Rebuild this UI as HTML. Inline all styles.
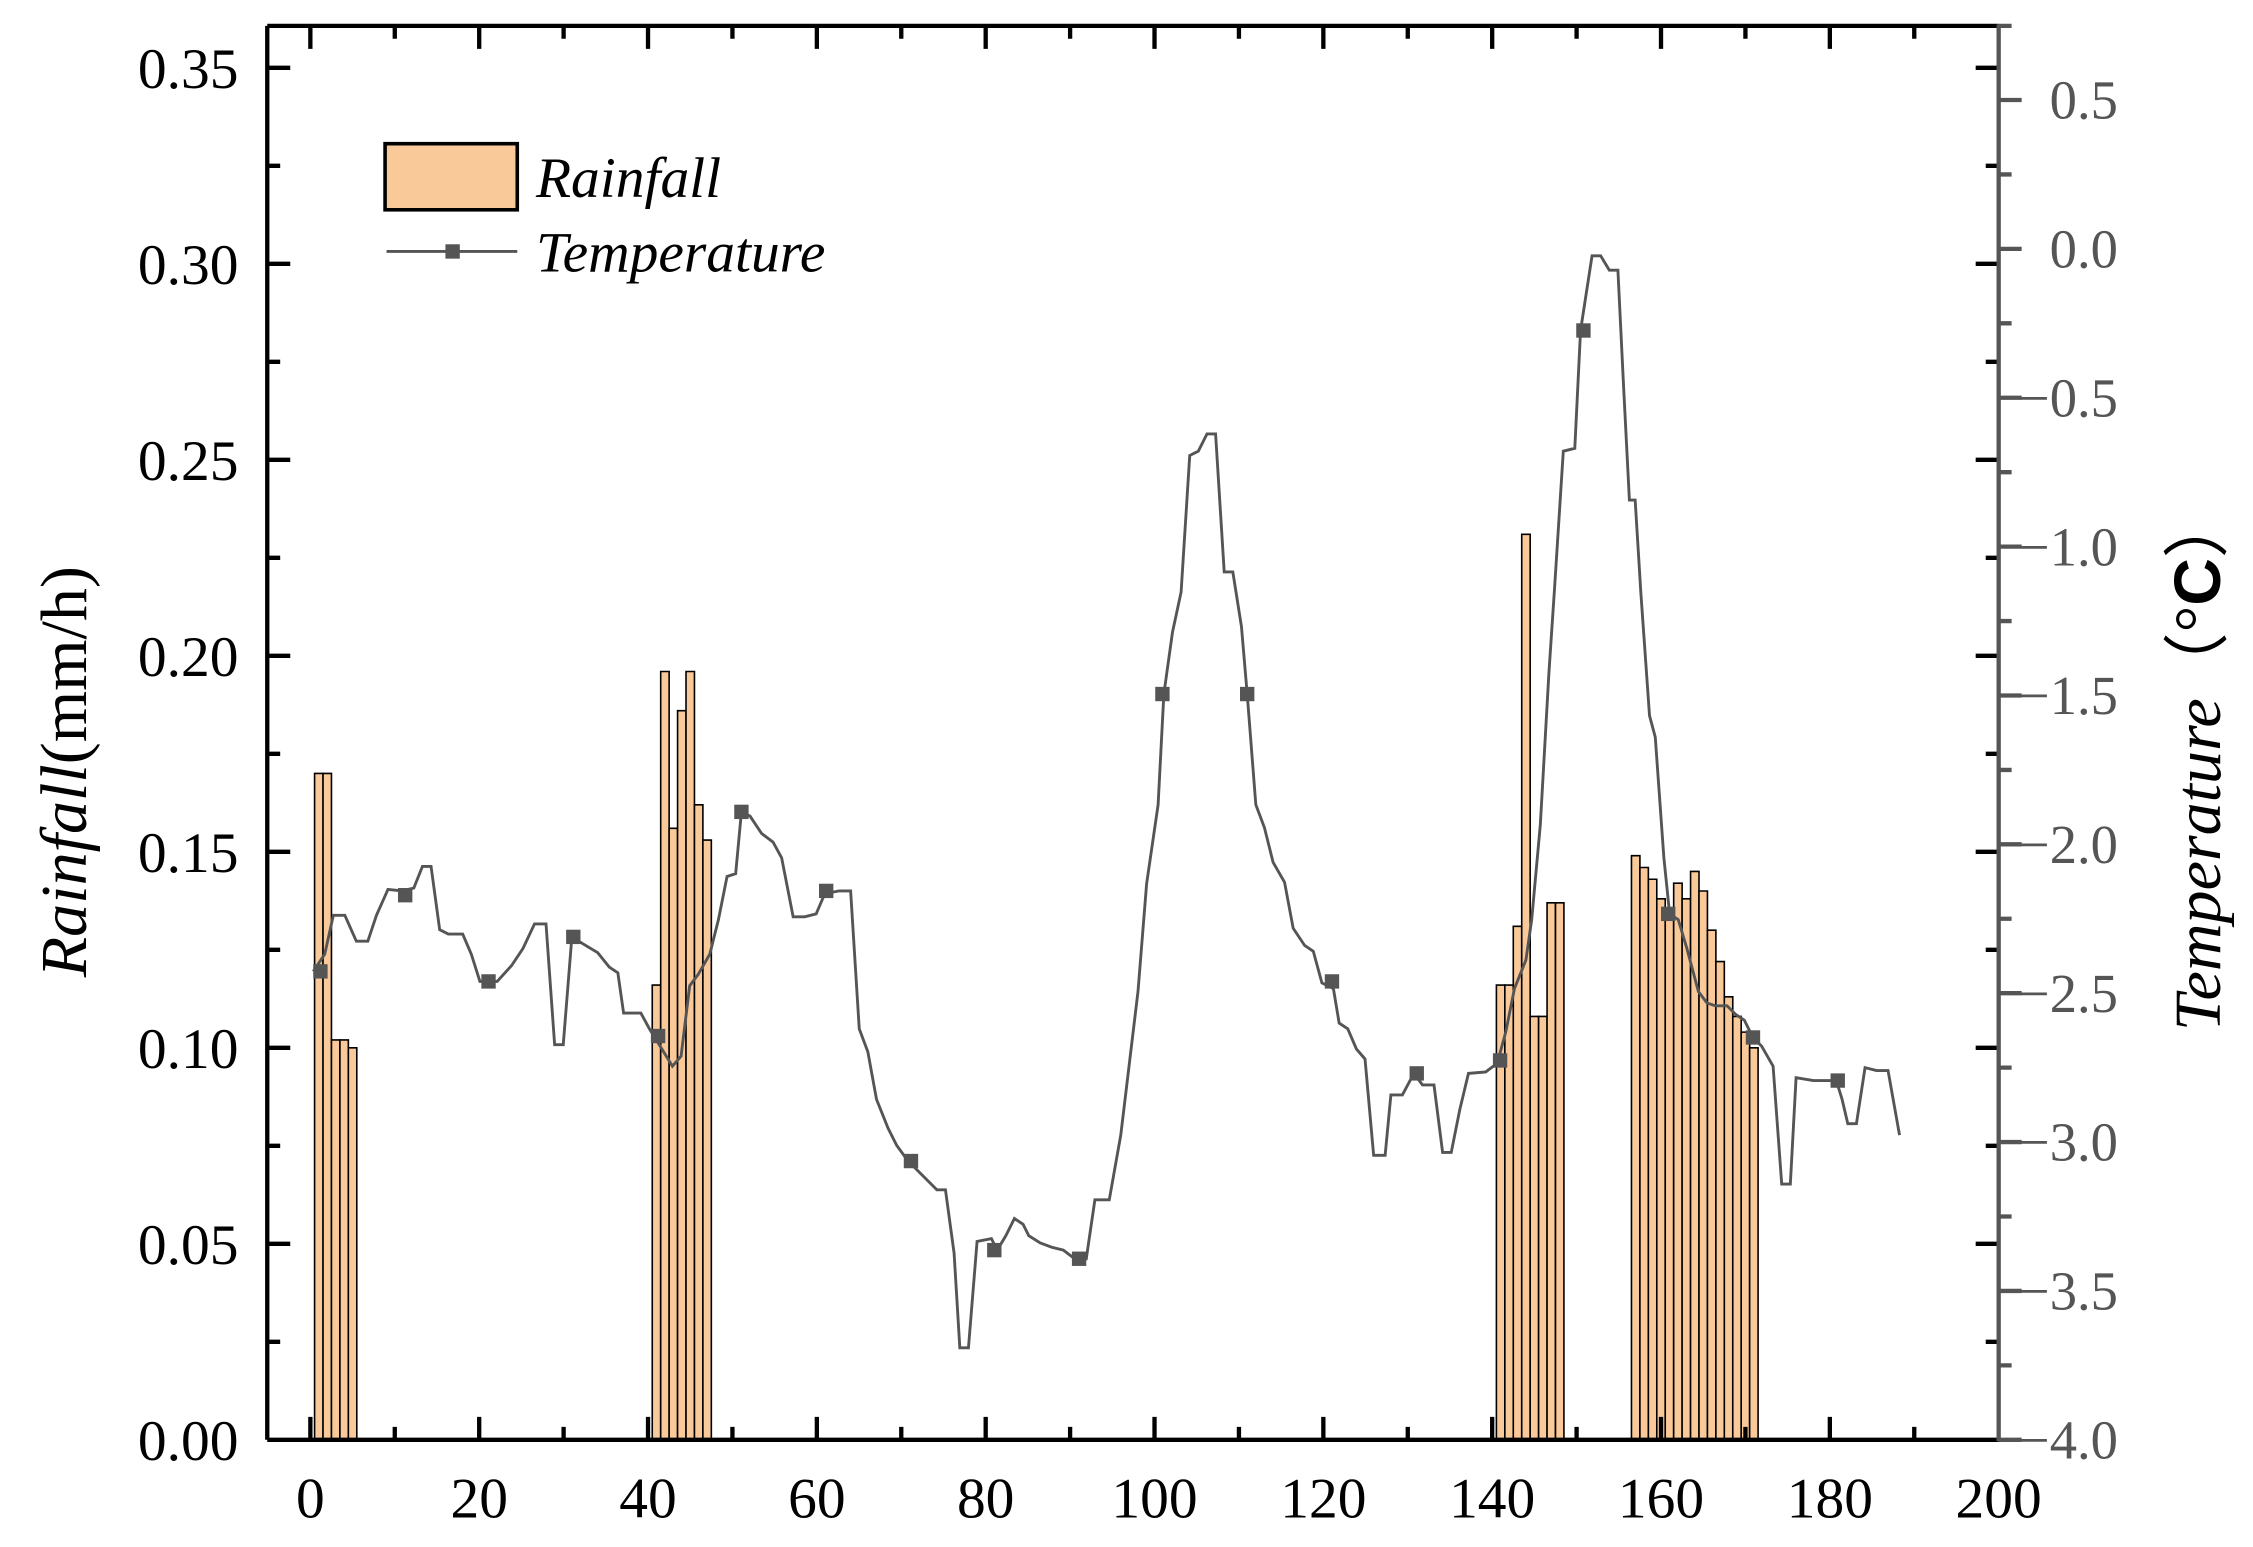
<!DOCTYPE html>
<html><head><meta charset="utf-8"><style>html,body{margin:0;padding:0;background:#fff}svg{display:block}</style></head>
<body>
<svg width="2253" height="1547" viewBox="0 0 1568 1076.6" preserveAspectRatio="none" xmlns="http://www.w3.org/2000/svg" font-family="'Liberation Serif',serif">
<g transform="translate(216,1002) scale(5.875,-2728)" fill="#fac99a" stroke="#000">
<rect x="0.5" y="0" width="1" height="0.17" vector-effect="non-scaling-stroke" stroke-width="1.6"/>
<rect x="1.5" y="0" width="1" height="0.17" vector-effect="non-scaling-stroke" stroke-width="1.6"/>
<rect x="2.5" y="0" width="1" height="0.102" vector-effect="non-scaling-stroke" stroke-width="1.6"/>
<rect x="3.5" y="0" width="1" height="0.102" vector-effect="non-scaling-stroke" stroke-width="1.6"/>
<rect x="4.5" y="0" width="1" height="0.1" vector-effect="non-scaling-stroke" stroke-width="1.6"/>
<rect x="40.5" y="0" width="1" height="0.116" vector-effect="non-scaling-stroke" stroke-width="1.6"/>
<rect x="41.5" y="0" width="1" height="0.196" vector-effect="non-scaling-stroke" stroke-width="1.6"/>
<rect x="42.5" y="0" width="1" height="0.156" vector-effect="non-scaling-stroke" stroke-width="1.6"/>
<rect x="43.5" y="0" width="1" height="0.186" vector-effect="non-scaling-stroke" stroke-width="1.6"/>
<rect x="44.5" y="0" width="1" height="0.196" vector-effect="non-scaling-stroke" stroke-width="1.6"/>
<rect x="45.5" y="0" width="1" height="0.162" vector-effect="non-scaling-stroke" stroke-width="1.6"/>
<rect x="46.5" y="0" width="1" height="0.153" vector-effect="non-scaling-stroke" stroke-width="1.6"/>
<rect x="140.5" y="0" width="1" height="0.116" vector-effect="non-scaling-stroke" stroke-width="1.6"/>
<rect x="141.5" y="0" width="1" height="0.116" vector-effect="non-scaling-stroke" stroke-width="1.6"/>
<rect x="142.5" y="0" width="1" height="0.131" vector-effect="non-scaling-stroke" stroke-width="1.6"/>
<rect x="143.5" y="0" width="1" height="0.231" vector-effect="non-scaling-stroke" stroke-width="1.6"/>
<rect x="144.5" y="0" width="1" height="0.108" vector-effect="non-scaling-stroke" stroke-width="1.6"/>
<rect x="145.5" y="0" width="1" height="0.108" vector-effect="non-scaling-stroke" stroke-width="1.6"/>
<rect x="146.5" y="0" width="1" height="0.137" vector-effect="non-scaling-stroke" stroke-width="1.6"/>
<rect x="147.5" y="0" width="1" height="0.137" vector-effect="non-scaling-stroke" stroke-width="1.6"/>
<rect x="156.5" y="0" width="1" height="0.149" vector-effect="non-scaling-stroke" stroke-width="1.6"/>
<rect x="157.5" y="0" width="1" height="0.146" vector-effect="non-scaling-stroke" stroke-width="1.6"/>
<rect x="158.5" y="0" width="1" height="0.143" vector-effect="non-scaling-stroke" stroke-width="1.6"/>
<rect x="159.5" y="0" width="1" height="0.138" vector-effect="non-scaling-stroke" stroke-width="1.6"/>
<rect x="160.5" y="0" width="1" height="0.135" vector-effect="non-scaling-stroke" stroke-width="1.6"/>
<rect x="161.5" y="0" width="1" height="0.142" vector-effect="non-scaling-stroke" stroke-width="1.6"/>
<rect x="162.5" y="0" width="1" height="0.138" vector-effect="non-scaling-stroke" stroke-width="1.6"/>
<rect x="163.5" y="0" width="1" height="0.145" vector-effect="non-scaling-stroke" stroke-width="1.6"/>
<rect x="164.5" y="0" width="1" height="0.140" vector-effect="non-scaling-stroke" stroke-width="1.6"/>
<rect x="165.5" y="0" width="1" height="0.130" vector-effect="non-scaling-stroke" stroke-width="1.6"/>
<rect x="166.5" y="0" width="1" height="0.122" vector-effect="non-scaling-stroke" stroke-width="1.6"/>
<rect x="167.5" y="0" width="1" height="0.113" vector-effect="non-scaling-stroke" stroke-width="1.6"/>
<rect x="168.5" y="0" width="1" height="0.108" vector-effect="non-scaling-stroke" stroke-width="1.6"/>
<rect x="169.5" y="0" width="1" height="0.104" vector-effect="non-scaling-stroke" stroke-width="1.6"/>
<rect x="170.5" y="0" width="1" height="0.100" vector-effect="non-scaling-stroke" stroke-width="1.6"/>
</g>
<polyline fill="none" stroke="#555" stroke-width="2" points="218,676 226,664 232,637 240,637 248,655 256,655 262,637 270,619 280,620 288,618 294,603 300,603 306,647 312,650 322,650 328,664 334,683 346,683 356,672 364,660 372,643 380,643 386,727 392,727 398,652 406,657 416,663 424,673 430,677 434,705 446,705 452,716 460,729 468,742 474,735 480,686 486,678 494,664 500,640 506,610 512,608 516,565 522,568 530,580 538,586 544,597 552,638 560,638 568,636 574,622 584,620 592,620 598,716 604,732 610,765 618,785 624,797 632,808 638,814 646,822 652,828 658,828 664,872 668,938 674,938 680,864 690,862 694,870 700,860 706,848 712,852 716,860 724,865 732,868 740,870 748,876 756,876 762,835 772,835 780,790 786,740 792,690 798,615 806,560 810,483 816,440 822,412 828,317 834,314 840,302 846,302 852,398 858,398 864,436 868,483 874,560 880,576 886,600 894,614 900,646 908,658 914,662 920,684 928,688 932,712 938,716 944,730 950,737 956,804 964,804 968,762 976,762 984,747 990,755 998,755 1004,802 1010,802 1016,772 1022,747 1034,746 1042,740 1048,718 1054,688 1062,668 1066,640 1072,574 1078,468 1082,408 1088,314 1096,312 1100,230 1104,204 1108,178 1114,178 1120,188 1126,188 1130,270 1134,348 1138,348 1142,413 1148,498 1152,513 1158,597 1162,636 1168,640 1174,660 1182,690 1188,698 1194,700 1202,700 1208,706 1214,710 1220,722 1226,728 1234,742 1240,824 1246,824 1250,750 1262,752 1270,752 1278,752 1282,765 1286,782 1292,782 1298,743 1306,745 1314,745 1322,790"/>
<g fill="#555">
<rect x="218" y="671" width="10" height="10"/><rect x="277" y="618" width="10" height="10"/><rect x="335" y="678" width="10" height="10"/><rect x="394" y="647" width="10" height="10"/><rect x="453" y="716" width="10" height="10"/><rect x="511" y="560" width="10" height="10"/><rect x="570" y="615" width="10" height="10"/><rect x="629" y="803" width="10" height="10"/><rect x="687" y="865" width="10" height="10"/><rect x="746" y="871" width="10" height="10"/><rect x="804" y="478" width="10" height="10"/><rect x="863" y="478" width="10" height="10"/><rect x="922" y="678" width="10" height="10"/><rect x="981" y="742" width="10" height="10"/><rect x="1039" y="733" width="10" height="10"/><rect x="1097" y="225" width="10" height="10"/><rect x="1156" y="631" width="10" height="10"/><rect x="1215" y="717" width="10" height="10"/><rect x="1274" y="747" width="10" height="10"/>
</g>
<g stroke="#000" stroke-width="3">
<line x1="186" y1="1002" x2="1391" y2="1002"/>
<line x1="186" y1="18" x2="1391" y2="18"/>
<line x1="186" y1="18" x2="186" y2="1002"/>
<path d="M216 1002v-16M333.5 1002v-16M451 1002v-16M568.5 1002v-16M686 1002v-16M803.5 1002v-16M921 1002v-16M1038.5 1002v-16M1156 1002v-16M1273.5 1002v-16
M274.75 1002v-9M392.25 1002v-9M509.75 1002v-9M627.25 1002v-9M744.75 1002v-9M862.25 1002v-9M979.75 1002v-9M1097.25 1002v-9M1214.75 1002v-9M1332.25 1002v-9
M216 18v16M333.5 18v16M451 18v16M568.5 18v16M686 18v16M803.5 18v16M921 18v16M1038.5 18v16M1156 18v16M1273.5 18v16
M274.75 18v9M392.25 18v9M509.75 18v9M627.25 18v9M744.75 18v9M862.25 18v9M979.75 18v9M1097.25 18v9M1214.75 18v9M1332.25 18v9"/>
<path d="M186 865.6h16M186 729.2h16M186 592.8h16M186 456.4h16M186 320h16M186 183.6h16M186 47.2h16
M186 933.8h9M186 797.4h9M186 661h9M186 524.6h9M186 388.2h9M186 251.8h9M186 115.4h9
M1391 865.6h-16M1391 729.2h-16M1391 592.8h-16M1391 456.4h-16M1391 320h-16M1391 183.6h-16M1391 47.2h-16
M1391 933.8h-9M1391 797.4h-9M1391 661h-9M1391 524.6h-9M1391 388.2h-9M1391 251.8h-9M1391 115.4h-9"/>
</g>
<g stroke="#555" stroke-width="3">
<line x1="1391" y1="17" x2="1391" y2="1003"/>
<path d="M1391 1002h16M1391 898.4h16M1391 794.8h16M1391 691.2h16M1391 587.6h16M1391 484h16M1391 380.4h16M1391 276.8h16M1391 173.2h16M1391 69.6h16
M1391 950.2h9M1391 846.6h9M1391 743h9M1391 639.4h9M1391 535.8h9M1391 432.2h9M1391 328.6h9M1391 225h9M1391 121.4h9M1391 18h9"/>
</g>
<g font-size="40" text-anchor="end" fill="#000">
<text x="166" y="1016">0.00</text><text x="166" y="879.6">0.05</text><text x="166" y="743.2">0.10</text><text x="166" y="606.8">0.15</text><text x="166" y="470.4">0.20</text><text x="166" y="334">0.25</text><text x="166" y="197.6">0.30</text><text x="166" y="61.2">0.35</text>
</g>
<g font-size="40" text-anchor="middle" fill="#000">
<text x="216" y="1056">0</text><text x="333.5" y="1056">20</text><text x="451" y="1056">40</text><text x="568.5" y="1056">60</text><text x="686" y="1056">80</text><text x="803.5" y="1056">100</text><text x="921" y="1056">120</text><text x="1038.5" y="1056">140</text><text x="1156" y="1056">160</text><text x="1273.5" y="1056">180</text><text x="1391" y="1056">200</text>
</g>
<g font-size="38" fill="#555" text-anchor="end">
<text x="1474" y="1015">−4.0</text><text x="1474" y="911.4">−3.5</text><text x="1474" y="807.8">−3.0</text><text x="1474" y="704.2">−2.5</text><text x="1474" y="600.6">−2.0</text><text x="1474" y="497">−1.5</text><text x="1474" y="393.4">−1.0</text><text x="1474" y="289.8">−0.5</text><text x="1474" y="186.2">0.0</text><text x="1474" y="82.6">0.5</text>
</g>
<text transform="translate(60,537) rotate(-90)" font-size="46" text-anchor="middle"><tspan font-style="italic">Rainfall</tspan>(mm/h)</text>
<text transform="translate(1545,530) rotate(-90)" font-size="46" text-anchor="middle" fill="#000"><tspan font-style="italic">Temperature</tspan>（°<tspan font-family="'Liberation Sans',sans-serif" font-weight="bold">C</tspan>）</text>
<rect x="268" y="100" width="92" height="46" fill="#fac99a" stroke="#000" stroke-width="2.5"/>
<text x="373" y="137" font-size="40" font-style="italic">Rainfall</text>
<line x1="269" y1="175" x2="360" y2="175" stroke="#555" stroke-width="2"/>
<rect x="310" y="170" width="10" height="10" fill="#555"/>
<text x="373" y="189" font-size="40" font-style="italic">Temperature</text>
</svg>
</body></html>
